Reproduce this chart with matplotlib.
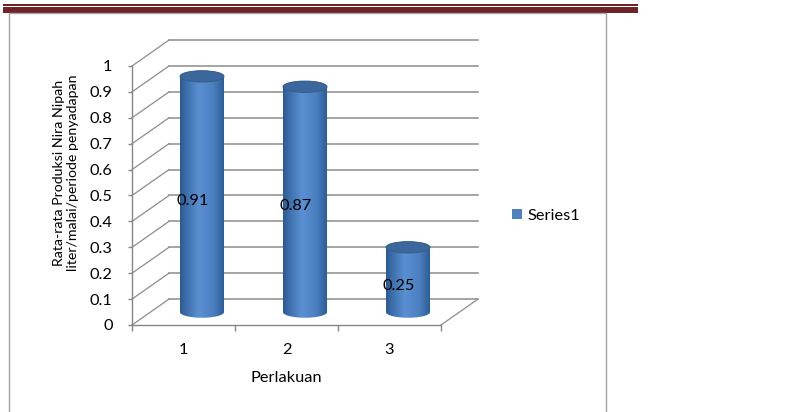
import numpy as np
import matplotlib
matplotlib.use('Agg')
import matplotlib.pyplot as plt
from matplotlib.patches import Rectangle, Ellipse, Polygon, Patch
from matplotlib.colors import LinearSegmentedColormap

# ---- data ----
categories = ['1', '2', '3']
values = [0.91, 0.87, 0.25]
value_labels = ['0.91', '0.87', '0.25']
y_ticks = [0, 0.1, 0.2, 0.3, 0.4, 0.5, 0.6, 0.7, 0.8, 0.9, 1.0]
y_tick_labels = ['0', '0.1', '0.2', '0.3', '0.4', '0.5', '0.6', '0.7', '0.8', '0.9', '1']
series_name = 'Series1'
x_title = 'Perlakuan'
y_title = 'Rata-rata Produksi Nira Nipah\nliter/malai/periode penyadapan'

plt.rcParams['font.family'] = ['Lato', 'DejaVu Sans']
FS = 11.8
W, H = 799, 412
fig = plt.figure(figsize=(W / 100, H / 100), dpi=100)

def fx(px):
    return px / W

def fy(py):
    return 1 - py / H

# decorative header bands and chart frame
fig.patches.append(Rectangle((fx(3), fy(5.7)), fx(635), 2 / H, transform=fig.transFigure,
                             facecolor='#6d2327', edgecolor='none'))
fig.patches.append(Rectangle((fx(3), fy(12.8)), fx(635), 6.2 / H, transform=fig.transFigure,
                             facecolor='#6d2327', edgecolor='none'))
fig.patches.append(Rectangle((fx(9), fy(430)), fx(597), 417 / H, transform=fig.transFigure,
                             facecolor='none', edgecolor='#a6a6a6', lw=1.0))

ax = fig.add_axes([fx(132), fy(325), fx(309), 259 / H])
ax.patch.set_alpha(0)
n = len(categories)
xpos = np.arange(1, n + 1)
dx, dy = 0.359, 0.100   # depth offset (data units)
grid_c = '#8c8c8c'

# back wall + side wall grid
for v in y_ticks:
    ax.plot([0.5 + dx, n + 0.5 + dx], [v + dy, v + dy], color=grid_c, lw=1.1, clip_on=False, zorder=1)
    ax.plot([0.5, 0.5 + dx], [v, v + dy], color=grid_c, lw=0.9, clip_on=False, zorder=1)
ax.plot([n + 0.5, n + 0.5 + dx], [0, dy], color=grid_c, lw=0.9, clip_on=False, zorder=1)

# cylinders
cmap = LinearSegmentedColormap.from_list('cyl', [(0, '#2c5a90'), (0.12, '#3b6ca8'), (0.42, '#5a90d2'),
                                                 (0.75, '#4a7fc0'), (1, '#2c5a90')])
grad = np.linspace(0, 1, 200)[None, :]
hw = 0.214
e = 0.022
for xi, v in zip(xpos, values):
    cx = xi + dx / 2
    y0 = dy / 2
    y1 = v + dy / 2
    th_b = np.linspace(np.pi, 2 * np.pi, 60)
    th_t = np.linspace(0, np.pi, 60)
    pts = np.vstack([np.column_stack([cx + hw * np.cos(th_b), y0 + e * np.sin(th_b)]),
                     np.column_stack([cx + hw * np.cos(th_t), y1 + e * np.sin(th_t)])])
    side = Polygon(pts, closed=True, facecolor='none', edgecolor='none', transform=ax.transData)
    ax.add_patch(side)
    im = ax.imshow(grad, cmap=cmap, extent=[cx - hw, cx + hw, y0 - e, y1 + e], aspect='auto',
                   zorder=3, interpolation='bilinear')
    im.set_clip_path(side)
    top = Ellipse((cx, y1), 2 * hw, 2 * e, facecolor='#3b679c', edgecolor='#335b8a', lw=0.6, zorder=4)
    ax.add_patch(top)

for xi, v, lab in zip(xpos, values, value_labels):
    ax.text(xi + dx / 4, v / 2 + dy / 4, lab, ha='center', va='center', fontsize=FS, color='black', zorder=6)

ax.set_xlim(0.5, n + 0.5)
ax.set_ylim(0, 1)

for s in ['top', 'right']:
    ax.spines[s].set_visible(False)
for s in ['left', 'bottom']:
    ax.spines[s].set_color('#868686')
    ax.spines[s].set_linewidth(1.0)

ax.set_yticks(y_ticks)
ax.set_yticklabels(y_tick_labels)
ax.tick_params(axis='y', length=3, width=1, color='#868686', pad=11, labelsize=FS)
ax.set_xticks(np.arange(0.5, n + 1))
ax.set_xticklabels([])
ax.set_xticks(xpos, minor=True)
ax.set_xticklabels(categories, minor=True)
ax.tick_params(axis='x', which='major', length=4, width=1, color='#868686')
ax.tick_params(axis='x', which='minor', length=0, pad=13, labelsize=FS)

fig.text(fx(286), fy(378), x_title, ha='center', va='center', fontsize=FS)
fig.text(fx(66), fy(173), y_title, ha='center', va='center', rotation=90, fontsize=10.2,
         multialignment='center', linespacing=1.2)

fig.legend(handles=[Patch(facecolor='#4f81bd', label=series_name)], loc='center left',
           bbox_to_anchor=(fx(512), fy(216)), frameon=False, handlelength=0.6, handleheight=0.6,
           handletextpad=0.36, borderpad=0, borderaxespad=0, fontsize=FS)

fig.savefig('out.png', dpi=100)
